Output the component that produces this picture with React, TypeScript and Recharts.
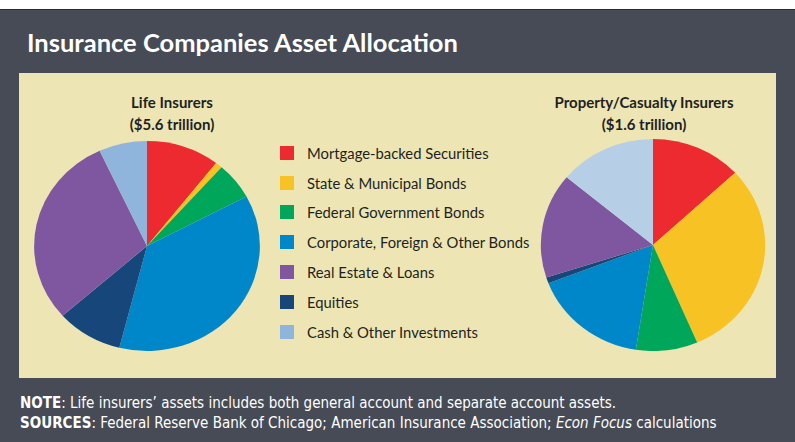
import React from 'react';
import { PieChart, Pie, Cell } from 'recharts';

const categories = [
  'Mortgage-backed Securities',
  'State & Municipal Bonds',
  'Federal Government Bonds',
  'Corporate, Foreign & Other Bonds',
  'Real Estate & Loans',
  'Equities',
  'Cash & Other Investments',
];

// shares in percent (legend order)
const lifeShares = [10.5, 1.0, 5.7, 36.8, 29.7, 9.5, 6.9];
const pcShares = [13.1, 30.5, 8.9, 16.7, 16.0, 0.9, 14.0];

// the pies draw Equities before Real Estate
const pieOrder = [0, 1, 2, 3, 5, 4, 6];

const colors = ['#ec2a2f', '#f7c223', '#00a65a', '#0087c9', '#7f57a0', '#17477a', '#8fb5dd'];
const pcColors = ['#ec2a2f', '#f7c223', '#00a65a', '#0087c9', '#7f57a0', '#17477a', '#b6cfe6'];

const lifeData = pieOrder.map((i) => ({ name: categories[i], value: lifeShares[i], fill: colors[i] }));
const pcData = pieOrder.map((i) => ({ name: categories[i], value: pcShares[i], fill: pcColors[i] }));

const DARK = '#464b55';
const PANEL = '#ede6b4';
const INK = '#231f20';

const titleFont = "Lato, 'Open Sans', sans-serif";
const noteFont = "'Liberation Sans Narrow', 'DejaVu Sans Condensed', sans-serif";

type PieBoxProps = {
  data: { name: string; value: number; fill: string }[];
  cx: number;
  cy: number;
  r: number;
  stretch: number;
};

const PieBox: React.FC<PieBoxProps> = ({ data, cx, cy, r, stretch }) => {
  const w = 2 * r + 10;
  const h = 2 * r + 10;
  return (
    <div
      style={{
        position: 'absolute',
        left: cx - w / 2,
        top: cy - h / 2,
        width: w,
        height: h,
        transform: `scaleX(${stretch})`,
        transformOrigin: 'center',
      }}
    >
      <PieChart width={w} height={h} margin={{ top: 0, right: 0, bottom: 0, left: 0 }}>
        <Pie
          data={data}
          dataKey="value"
          nameKey="name"
          cx="50%"
          cy="50%"
          outerRadius={r}
          startAngle={90}
          endAngle={-270}
          stroke="none"
          isAnimationActive={false}
        >
          {data.map((d) => (
            <Cell key={d.name} fill={d.fill} />
          ))}
        </Pie>
      </PieChart>
    </div>
  );
};

const PieTitle: React.FC<{ x: number; lines: string[] }> = ({ x, lines }) => (
  <div
    style={{
      position: 'absolute',
      left: x - 120,
      top: 91,
      width: 240,
      textAlign: 'center',
      fontFamily: titleFont,
      fontWeight: 700,
      fontSize: 15,
      lineHeight: '22px',
      color: INK,
    }}
  >
    {lines.map((l) => (
      <div key={l}>{l}</div>
    ))}
  </div>
);

export default function App() {
  return (
    <div style={{ position: 'absolute', left: 0, top: 0, width: 795, height: 442, background: '#fff', overflow: 'hidden' }}>
      <div
        style={{
          position: 'absolute',
          left: 0,
          top: 9,
          width: 795,
          height: 433,
          background: DARK,
          borderTop: '1px solid #2b2b2b',
        }}
      />
      <div
        style={{
          position: 'absolute',
          left: 27,
          top: 26,
          fontFamily: titleFont,
          fontWeight: 700,
          fontSize: 25.5,
          lineHeight: '32px',
          color: '#fff',
          whiteSpace: 'nowrap',
        }}
      >
        Insurance Companies Asset Allocation
      </div>

      <div style={{ position: 'absolute', left: 19, top: 73, width: 757, height: 305, background: PANEL }} />

      <PieTitle x={172} lines={['Life Insurers', '($5.6 trillion)']} />
      <PieTitle x={644} lines={['Property/Casualty Insurers', '($1.6 trillion)']} />

      <PieBox data={lifeData} cx={146.7} cy={245.7} r={105} stretch={1.075} />
      <PieBox data={pcData} cx={653.3} cy={245} r={106} stretch={1.058} />

      <div style={{ position: 'absolute', left: 280, top: 138 }}>
        {categories.map((c, i) => (
          <div
            key={c}
            style={{
              display: 'flex',
              alignItems: 'center',
              height: 29.8,
              fontFamily: titleFont,
              fontSize: 14.8,
              color: INK,
              whiteSpace: 'nowrap',
            }}
          >
            <span style={{ display: 'inline-block', width: 14, height: 14, background: colors[i], marginRight: 13 }} />
            {c}
          </div>
        ))}
      </div>

      <div
        style={{
          position: 'absolute',
          left: 20,
          top: 393,
          fontFamily: noteFont,
          fontSize: 15,
          lineHeight: '20px',
          color: '#fff',
          whiteSpace: 'nowrap',
        }}
      >
        <div>
          <span style={{ fontWeight: 600 }}>NOTE</span>: Life insurers’ assets includes both general account and separate account assets.
        </div>
        <div>
          <span style={{ fontWeight: 600 }}>SOURCES</span>: Federal Reserve Bank of Chicago; American Insurance Association; <i>Econ Focus</i> calculations
        </div>
      </div>
    </div>
  );
}
